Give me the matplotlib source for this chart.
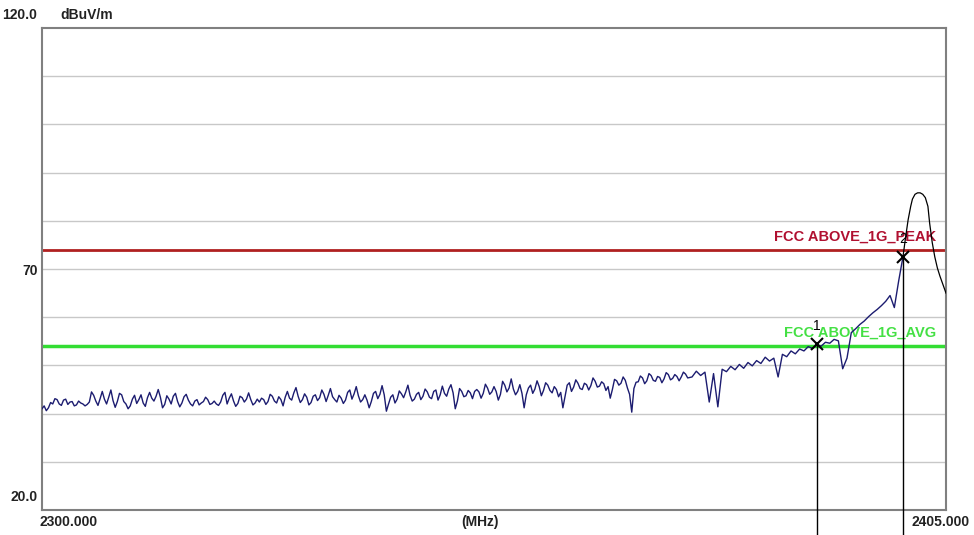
import numpy as np
import matplotlib
matplotlib.use('Agg')
import matplotlib.pyplot as plt

plt.rcParams['font.family'] = ['Liberation Sans', 'DejaVu Sans']

# scan trace (dBuV/m)
# 2300..2375 MHz on the 0.5 MHz points
seg_a = [41.0, 40.6, 42.3, 43.1, 42.0, 42.8, 41.9, 42.5, 41.8, 42.2,
         41.6, 42.4, 43.8, 41.7, 44.6, 42.0, 44.9, 41.3, 44.2, 42.5,
         41.0, 43.0, 42.1, 43.9, 41.5, 44.4, 42.6, 45.0, 41.2, 43.7,
         42.0, 44.2, 41.4, 43.5, 42.8, 41.6, 42.9, 42.2, 43.4, 41.9,
         42.6, 41.7, 43.8, 42.0, 44.1, 41.5, 43.6, 42.4, 44.3, 41.8, 43.0]
seg_b = [43.2, 41.9, 44.0, 42.6, 43.5, 41.6, 44.6, 42.8, 45.4, 42.3,
         44.1, 41.8, 43.6, 42.7, 44.9, 42.5, 45.2, 42.9, 43.8, 42.1,
         44.4, 43.0, 45.6, 42.4, 43.9, 41.2, 44.2, 43.1, 45.8, 40.5,
         43.4, 42.2, 44.7, 43.3, 45.9, 42.6, 44.0, 42.9, 45.1, 43.4,
         44.6, 42.8, 45.7, 43.6, 46.0, 41.0, 45.2, 43.5, 44.8, 43.1]
seg_c = [45.0, 43.2, 46.1, 44.0, 45.6, 42.8, 46.7, 44.5, 47.2, 43.9,
         46.0, 41.2, 45.3, 44.2, 46.8, 43.7, 46.4, 44.8, 45.6, 43.5,
         41.2, 45.9, 44.6, 47.0, 45.2, 46.3, 44.9, 47.4, 45.5, 46.6,
         44.8, 43.2, 47.1, 45.9, 47.6, 45.3, 40.3, 46.5, 47.8, 46.2,
         48.3, 46.9, 47.7, 46.4, 48.5, 47.0, 48.1, 46.8, 48.6, 47.4]
# in-between points, 2300.25..2374.75 MHz
mid_a = [41.6, 41.2, 42.0, 42.9, 41.7, 43.0, 42.4, 41.6, 42.6, 42.0,
         41.9, 44.5, 42.6, 43.1, 43.0, 43.4, 42.7, 42.5, 43.9, 42.0,
         41.6, 43.8, 42.9, 42.2, 43.3, 43.2, 43.6, 43.4, 41.9, 43.0,
         43.6, 42.5, 42.2, 44.0, 42.0, 42.6, 41.8, 42.5, 42.9, 42.1,
         42.0, 42.4, 44.4, 43.2, 42.6, 42.1, 43.3, 43.0, 42.9, 42.2]
mid_b = [42.4, 42.9, 42.5, 43.6, 42.2, 42.9, 43.4, 43.2, 44.3, 43.6,
         42.9, 43.4, 42.3, 43.9, 43.3, 44.0, 43.8, 43.5, 42.4, 43.2,
         42.8, 44.9, 44.1, 43.7, 42.9, 42.8, 42.5, 44.6, 44.0, 43.9,
         42.0, 43.9, 43.0, 44.1, 44.5, 43.8, 43.0, 44.4, 43.6, 44.5,
         43.1, 44.9, 43.9, 44.2, 45.1, 44.3, 42.6, 44.6, 43.7, 44.3]
mid_c = [44.6, 44.5, 44.2, 45.3, 44.5, 44.6, 44.0, 45.9, 45.3, 45.1,
         44.6, 44.2, 43.9, 45.9, 45.1, 45.6, 44.8, 45.9, 44.3, 45.0,
         44.4, 43.6, 46.4, 45.5, 46.3, 45.0, 46.0, 45.8, 46.7, 45.7,
         46.2, 45.6, 45.0, 46.8, 46.3, 46.9, 44.0, 45.2, 46.6, 47.4,
         46.8, 47.9, 46.7, 47.5, 47.2, 48.1, 47.3, 47.7, 47.6, 48.2]
# 2375.5..2400 MHz every 0.5 MHz
seg_d = [47.6, 48.8, 47.9, 48.6, 42.4, 48.3, 41.4, 49.2, 48.7, 49.8,
         49.1, 50.2, 49.4, 50.6, 49.9, 51.0, 50.4, 51.7, 50.9, 51.5,
         47.6, 52.3, 51.8, 53.0, 52.4, 53.4, 53.0, 53.9, 53.5, 54.3,
         54.0, 54.8, 54.6, 55.4, 55.1, 49.3, 51.5, 56.8, 57.6, 58.5,
         59.2, 60.1, 60.9, 61.6, 62.4, 63.3, 64.5, 62.0, 67.5, 72.5]

coarse = seg_a + seg_b + seg_c
mids = mid_a + mid_b + mid_c
fine = np.empty(len(coarse) + len(mids))
fine[0::2] = coarse
fine[1::2] = mids
trace = np.concatenate([fine, seg_d])
freq = np.concatenate([np.linspace(2300, 2375, len(fine)),
                       np.linspace(2375.5, 2400, len(seg_d))])

# carrier edge (black trace)
edge_freq = [2400.0, 2400.3, 2400.6, 2400.9, 2401.1, 2401.4, 2401.7, 2402.0, 2402.3,
             2402.6, 2402.9, 2403.1, 2403.4, 2403.7, 2404.0, 2404.3, 2404.6, 2405.0]
edge_val = [72.5, 76.5, 80.2, 83.0, 84.5, 85.5, 85.8, 85.8, 85.5,
            84.8, 83.0, 79.5, 75.5, 72.5, 70.2, 68.5, 67.0, 65.0]

peak_limit = 74
avg_limit = 54
marker_f = [2390.0, 2400.0]
marker_v = [54.4, 72.5]
marker_lbl = ['1', '2']

fig = plt.figure(figsize=(9.74, 5.35), dpi=100)
ax = fig.add_axes([42/974, 1-510/535, 904/974, 482/535])
ax.set_xlim(2300, 2405)
ax.set_ylim(20, 120)

for g in range(30, 120, 10):
    ax.axhline(g, color='#c8c8c8', lw=1, zorder=0)

ax.axhline(peak_limit, color='#b02020', lw=2, zorder=2)
ax.axhline(avg_limit, color='#33dd33', lw=2.5, zorder=2)
ax.text(2403.9, peak_limit + 2.8, 'FCC ABOVE_1G_PEAK', color='#b01030',
        fontsize=10.5, fontweight='bold', ha='right', va='center')
ax.text(2403.9, avg_limit + 2.7, 'FCC ABOVE_1G_AVG', color='#44e044',
        fontsize=10.5, fontweight='bold', ha='right', va='center')

ax.plot(freq, trace, color='#1c1c70', lw=1.0, zorder=3)
ax.plot(edge_freq, edge_val, color='black', lw=0.9, zorder=3)

for f, v, l in zip(marker_f, marker_v, marker_lbl):
    ax.plot([f, f], [v, 14.8], color='black', lw=1, clip_on=False, zorder=4)
    ax.plot(f, v, marker='x', color='black', ms=8, mew=1.5, zorder=5)
    ax.text(f, v + 3.8, l, fontsize=10, ha='center', va='center', zorder=5)

ax.set_xticks([])
ax.set_yticks([])
for s in ax.spines.values():
    s.set_color('#808080')
    s.set_linewidth(1.5)

tk = dict(fontsize=10, fontweight='bold', color='#222222')
fig.text(2/974, 1-15/535, '120.0', ha='left', va='center', **tk)
fig.text(60/974, 1-15/535, 'dBuV/m', ha='left', va='center', **tk)
fig.text(38/974, 1-271/535, '70', ha='right', va='center', **tk)
fig.text(38/974, 1-497/535, '20.0', ha='right', va='center', **tk)
fig.text(40/974, 1-522/535, '2300.000', ha='left', va='center', **tk)
fig.text(480/974, 1-522/535, '(MHz)', ha='center', va='center', **tk)
fig.text(970/974, 1-522/535, '2405.000', ha='right', va='center', **tk)

fig.savefig('out.png', dpi=100)
